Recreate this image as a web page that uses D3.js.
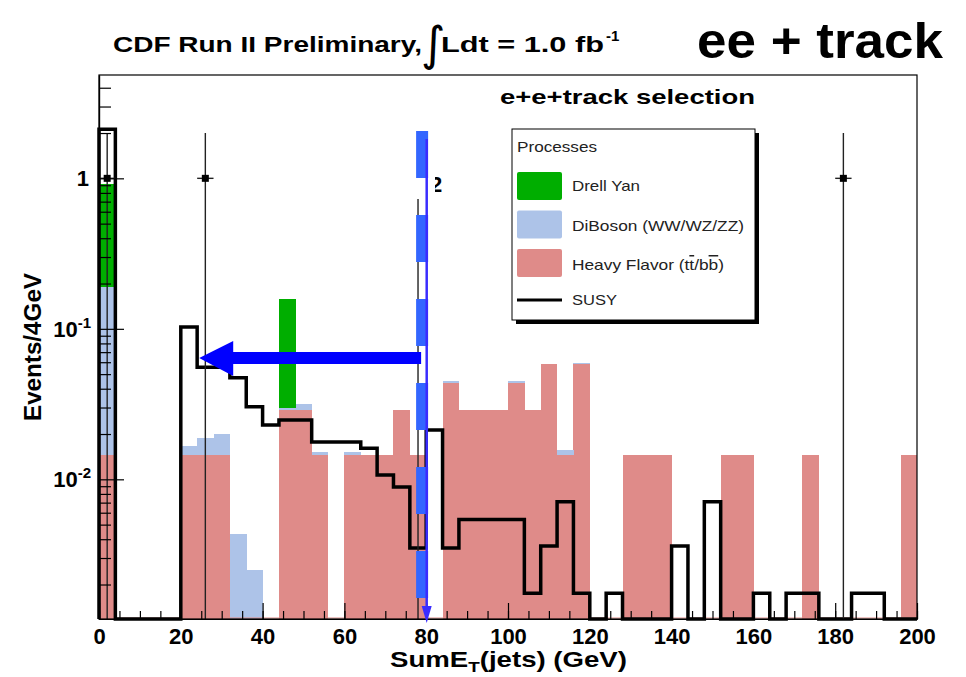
<!DOCTYPE html>
<html>
<head>
<meta charset="utf-8">
<title>ee + track</title>
<style>
  body { margin: 0; background: #fff; }
  svg { display: block; font-family: "Liberation Sans", Arial, sans-serif; }
  .axis text { font-weight: bold; font-size: 22px; fill: #000; }
  .axis path, .axis line { stroke: #000; stroke-width: 1.2px; }
  .legend text { font-size: 15px; fill: #222; }
</style>
</head>
<body>
<svg id="chart" width="966" height="677"></svg>
<script src="https://d3js.org/d3.v7.min.js"></script>
<script>
// 4 GeV bins from 0 to 200 GeV (lower edges)
const binWidth = 4;
const binLow = d3.range(0, 200, binWidth);

// stacked backgrounds, events per bin (contribution of each process)
const heavyFlavor = [
  0.0145, 0, 0, 0, 0, 0.0145, 0.0145, 0.0145, 0, 0,
  0, 0.029, 0.029, 0.0145, 0, 0.0145, 0.0145, 0.0145, 0.029, 0.0145,
  0, 0.0435, 0.029, 0.029, 0.029, 0.0435, 0.029, 0.058, 0.0145, 0.058,
  0, 0, 0.0145, 0.0145, 0.0145, 0, 0, 0, 0.0145, 0.0145,
  0, 0, 0, 0.0145, 0, 0, 0, 0, 0, 0.0145
];
const diboson = [
  0.176, 0, 0, 0, 0, 0.0021, 0.0044, 0.0055, 0.0043, 0.0025,
  0, 0.0008, 0.0025, 0.0006, 0, 0.0006, 0, 0, 0, 0,
  0, 0.0012, 0, 0, 0, 0.0012, 0, 0, 0.0012, 0.0015,
  0, 0, 0, 0, 0, 0, 0, 0, 0, 0,
  0, 0, 0, 0, 0, 0, 0, 0, 0, 0
];
const drellYan = [
  0.72, 0, 0, 0, 0, 0, 0, 0, 0, 0,
  0, 0.127, 0, 0, 0, 0, 0, 0, 0, 0,
  0, 0, 0, 0, 0, 0, 0, 0, 0, 0,
  0, 0, 0, 0, 0, 0, 0, 0, 0, 0,
  0, 0, 0, 0, 0, 0, 0, 0, 0, 0
];
// signal, drawn as an outline
const susy = [
  2.12, 0, 0, 0, 0, 0.103, 0.0555, 0.0555, 0.0473, 0.0304,
  0.023, 0.0248, 0.0248, 0.0177, 0.0177, 0.0177, 0.0161, 0.0107, 0.0089, 0.0035,
  0.0213, 0.0035, 0.0054, 0.0054, 0.0054, 0.0054, 0.00175, 0.0036, 0.0071, 0.00175,
  0, 0.00175, 0, 0, 0, 0.0036, 0, 0.0071, 0, 0,
  0.00175, 0, 0.00175, 0.00175, 0, 0, 0.00175, 0.00175, 0, 0
];
// data points (bin centre, count, upper error)
const dataX = [2, 26, 78, 182];
const dataY = [1, 1, 1, 1];
const dataErrUp = [1, 1, 1, 1];

const xTicks = [0, 20, 40, 60, 80, 100, 120, 140, 160, 180, 200];
const yMajor = [0.01, 0.1, 1];
const yMinor = [0.002, 0.003, 0.004, 0.005, 0.006, 0.007, 0.008, 0.009,
  0.02, 0.03, 0.04, 0.05, 0.06, 0.07, 0.08, 0.09,
  0.2, 0.3, 0.4, 0.5, 0.6, 0.7, 0.8, 0.9, 2, 3, 4];

const processes = ['Drell Yan', 'DiBoson (WW/WZ/ZZ)', 'Heavy Flavor', 'SUSY'];
const colors = { hf: '#df8b89', db: '#adc3e8', dy: '#00ae00' };

// cut annotation (GeV) and arrow
const cutAt = 79, cutLine = 80, arrowTo = 24.5, arrowLevel = 0.064;

const svg = d3.select('#chart');
const pLeft = 99, pRight = 917, pTop = 75, pBottom = 619;
const yMin = 0.00118, yMax = 4.86;

const x = d3.scaleLinear().domain([0, 200]).range([pLeft, pRight]);
const y = d3.scaleLog().domain([yMin, yMax]).range([pBottom, pTop]);
const clampY = v => y(Math.max(v, yMin));

svg.append('rect').attr('width', 966).attr('height', 677).attr('fill', '#fff');

// stacked histogram
const rows = binLow.map((lo, i) => ({ lo, hf: heavyFlavor[i], db: diboson[i], dy: drellYan[i] }));
const stack = d3.stack().keys(['hf', 'db', 'dy'])(rows);
stack.forEach(layer => {
  svg.append('g').attr('shape-rendering', 'crispEdges').selectAll('rect')
    .data(layer.filter(d => d[1] - d[0] > 0))
    .join('rect')
    .attr('x', d => x(d.data.lo))
    .attr('width', x(binWidth) - x(0) + 0.4)
    .attr('y', d => clampY(d[1]))
    .attr('height', d => clampY(d[0]) - clampY(d[1]))
    .attr('fill', colors[layer.key]);
});
svg.append('line').attr('x1', pLeft).attr('x2', pRight)
  .attr('y1', pBottom - 1).attr('y2', pBottom - 1)
  .attr('stroke', colors.hf).attr('stroke-width', 1);

// SUSY outline
const pts = [[0, yMin]];
binLow.forEach((lo, i) => { pts.push([lo, susy[i]]); pts.push([lo + binWidth, susy[i]]); });
pts.push([200, yMin]);
svg.append('path')
  .attr('d', d3.line().x(d => x(d[0])).y(d => clampY(d[1]))(pts))
  .attr('fill', 'none').attr('stroke', '#000').attr('stroke-width', 3.5)
  .attr('stroke-linejoin', 'miter');

// data points
const dp = svg.append('g').attr('stroke', '#222').attr('stroke-width', 1.4);
dataX.forEach((d, i) => {
  dp.append('line').attr('x1', x(d)).attr('x2', x(d))
    .attr('y1', y(dataY[i] + dataErrUp[i])).attr('y2', pBottom);
  dp.append('line').attr('x1', x(d - binWidth / 2)).attr('x2', x(d + binWidth / 2))
    .attr('y1', y(dataY[i])).attr('y2', y(dataY[i]));
  dp.append('rect').attr('x', x(d) - 3.5).attr('y', y(dataY[i]) - 3.5)
    .attr('width', 7).attr('height', 7).attr('fill', '#000').attr('stroke', 'none');
});

// frame
svg.append('rect').attr('x', pLeft).attr('y', pTop)
  .attr('width', pRight - pLeft).attr('height', pBottom - pTop)
  .attr('fill', 'none').attr('stroke', '#000').attr('stroke-width', 1.2);

// x axis
svg.append('g').attr('class', 'axis')
  .attr('transform', `translate(0,${pBottom})`)
  .call(d3.axisBottom(x).tickValues(d3.range(0, 201, 5)).tickSize(-8).tickSizeOuter(0).tickFormat(''));
svg.append('g').attr('class', 'axis')
  .attr('transform', `translate(0,${pBottom})`)
  .call(d3.axisBottom(x).tickValues(xTicks).tickSize(-16).tickSizeOuter(0).tickPadding(9));

// y axis ticks
svg.append('g').attr('class', 'axis')
  .attr('transform', `translate(${pLeft},0)`)
  .call(d3.axisLeft(y).tickValues(yMinor).tickSize(-12).tickSizeOuter(0).tickFormat(''));
svg.append('g').attr('class', 'axis')
  .attr('transform', `translate(${pLeft},0)`)
  .call(d3.axisLeft(y).tickValues(yMajor).tickSize(-25).tickSizeOuter(0).tickFormat(''));

// y labels with superscripts
yMajor.forEach(v => {
  const e = Math.round(Math.log10(v));
  const t = svg.append('text').attr('text-anchor', 'end')
    .attr('x', 91).attr('y', y(v) + 8)
    .attr('font-weight', 'bold').attr('font-size', 22);
  if (e === 0) { t.text('1'); t.attr('x', 89); }
  else {
    t.append('tspan').text('10');
    t.append('tspan').text(String(e)).attr('font-size', 15).attr('dy', -9);
  }
});

// axis titles
const xt = svg.append('text').attr('x', 390).attr('y', 667)
  .attr('font-weight', 'bold').attr('font-size', 22)
  .attr('textLength', 237).attr('lengthAdjust', 'spacingAndGlyphs');
xt.append('tspan').text('SumE');
xt.append('tspan').text('T').attr('font-size', 15).attr('dy', 5);
xt.append('tspan').text('(jets) (GeV)').attr('dy', -5);

svg.append('text').attr('transform', 'translate(41,347) rotate(-90)')
  .attr('text-anchor', 'middle').attr('font-weight', 'bold').attr('font-size', 23)
  .attr('textLength', 148).attr('lengthAdjust', 'spacingAndGlyphs')
  .text('Events/4GeV');

// patch hiding a label, partly visible "2"
svg.append('text').attr('x', 430).attr('y', 192).attr('font-weight', 'bold')
  .attr('font-size', 22).text('2');
svg.append('rect').attr('x', 406).attr('y', 165).attr('width', 29).attr('height', 34).attr('fill', '#fff');

// cut line and arrow
svg.append('line').attr('x1', x(cutAt)).attr('x2', x(cutAt))
  .attr('y1', 131).attr('y2', 600)
  .attr('stroke', '#3366ff').attr('stroke-width', 12).attr('stroke-dasharray', '47 37');
svg.append('line').attr('x1', x(cutLine) + 0.5).attr('x2', x(cutLine) + 0.5)
  .attr('y1', 139).attr('y2', 610)
  .attr('stroke', '#3a2cff').attr('stroke-width', 2.5);
const cx = x(cutLine) + 0.5;
svg.append('path')
  .attr('d', `M${cx - 5},606 L${cx + 5},606 L${cx},623 Z`).attr('fill', '#3a2cff');

const ay = y(arrowLevel), ax0 = x(cutAt) - 1, ax1 = x(arrowTo);
svg.append('path')
  .attr('d', `M${ax0},${ay - 6} L${ax1 + 34},${ay - 6} L${ax1 + 34},${ay - 17} L${ax1},${ay}
    L${ax1 + 34},${ay + 18} L${ax1 + 34},${ay + 6} L${ax0},${ay + 6} Z`)
  .attr('fill', '#0000ff');

// legend
const lg = svg.append('g').attr('class', 'legend');
lg.append('rect').attr('x', 516).attr('y', 133).attr('width', 243).attr('height', 191).attr('fill', '#000');
lg.append('rect').attr('x', 512).attr('y', 129).attr('width', 243).attr('height', 191)
  .attr('fill', '#fff').attr('stroke', '#000').attr('stroke-width', 1);
lg.append('text').attr('x', 517).attr('y', 152)
  .attr('textLength', 80).attr('lengthAdjust', 'spacingAndGlyphs').text('Processes');
const swatch = [colors.dy, colors.db, colors.hf];
swatch.forEach((c, i) => {
  lg.append('rect').attr('x', 517).attr('y', 172 + i * 38.5).attr('width', 45).attr('height', 28)
    .attr('rx', 2).attr('fill', c);
});
lg.append('line').attr('x1', 517).attr('x2', 562).attr('y1', 300).attr('y2', 300)
  .attr('stroke', '#000').attr('stroke-width', 3);
lg.append('text').attr('x', 572).attr('y', 191)
  .attr('textLength', 68).attr('lengthAdjust', 'spacingAndGlyphs').text(processes[0]);
lg.append('text').attr('x', 572).attr('y', 231)
  .attr('textLength', 172).attr('lengthAdjust', 'spacingAndGlyphs').text(processes[1]);
const hf = lg.append('text').attr('x', 572).attr('y', 270)
  .attr('textLength', 152).attr('lengthAdjust', 'spacingAndGlyphs');
hf.append('tspan').text(processes[2] + ' (t');
hf.append('tspan').text('t').style('text-decoration', 'overline');
hf.append('tspan').text('/b');
hf.append('tspan').text('b').style('text-decoration', 'overline');
hf.append('tspan').text(')');
lg.append('text').attr('x', 572).attr('y', 305)
  .attr('textLength', 45).attr('lengthAdjust', 'spacingAndGlyphs').text(processes[3]);

// titles
svg.append('text').attr('x', 500).attr('y', 104).attr('font-weight', 'bold')
  .attr('font-size', 21).attr('textLength', 255).attr('lengthAdjust', 'spacingAndGlyphs')
  .text('e+e+track selection');
svg.append('text').attr('x', 113).attr('y', 52).attr('font-weight', 'bold')
  .attr('font-size', 22).attr('textLength', 309).attr('lengthAdjust', 'spacingAndGlyphs')
  .text('CDF Run II Preliminary,');
svg.append('text').attr('x', 421).attr('y', 60).attr('font-size', 47)
  .attr('font-family', 'DejaVu Sans').text('\u222B');
svg.append('text').attr('x', 441).attr('y', 52).attr('font-weight', 'bold').attr('font-size', 22)
  .attr('textLength', 163).attr('lengthAdjust', 'spacingAndGlyphs').text('Ldt = 1.0 fb');
svg.append('text').attr('x', 606).attr('y', 41).attr('font-weight', 'bold').attr('font-size', 15)
  .text('-1');
svg.append('text').attr('x', 697).attr('y', 58).attr('font-weight', 'bold')
  .attr('font-size', 50).attr('textLength', 246).attr('lengthAdjust', 'spacingAndGlyphs')
  .text('ee + track');
</script>
</body>
</html>
